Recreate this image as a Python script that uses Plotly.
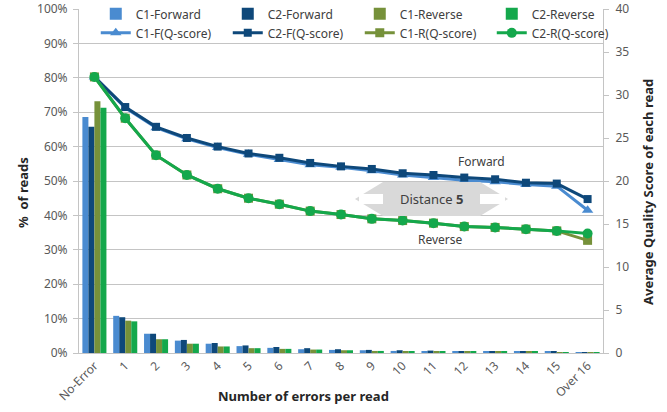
import plotly.graph_objects as go

categories = ["No-Error", "1", "2", "3", "4", "5", "6", "7", "8", "9", "10",
              "11", "12", "13", "14", "15", "Over 16"]

# % of reads (bars, left axis)
c1_forward = [68.6, 10.8, 5.6, 3.6, 2.7, 2.0, 1.5, 1.1, 0.9, 0.8, 0.6, 0.55, 0.45, 0.45, 0.35, 0.3, 0.2]
c2_forward = [65.8, 10.4, 5.6, 3.8, 2.9, 2.2, 1.75, 1.4, 1.1, 0.9, 0.8, 0.7, 0.55, 0.55, 0.4, 0.35, 0.2]
c1_reverse = [73.2, 9.4, 4.0, 2.7, 1.9, 1.4, 1.2, 1.0, 0.8, 0.6, 0.55, 0.45, 0.4, 0.35, 0.3, 0.25, 0.2]
c2_reverse = [71.3, 9.2, 4.0, 2.7, 1.9, 1.4, 1.2, 1.0, 0.8, 0.6, 0.55, 0.45, 0.4, 0.35, 0.3, 0.25, 0.2]

# Average quality score (lines, right axis)
c1_f_q = [32.1, 28.5, 26.2, 24.9, 23.9, 23.1, 22.5, 21.9, 21.6, 21.2, 20.7, 20.4, 20.1, 19.9, 19.6, 19.4, 16.6]
c2_f_q = [32.1, 28.6, 26.3, 25.0, 24.0, 23.2, 22.7, 22.1, 21.7, 21.4, 20.9, 20.7, 20.4, 20.2, 19.8, 19.7, 17.9]
c1_r_q = [32.1, 27.3, 23.0, 20.7, 19.1, 18.0, 17.3, 16.5, 16.1, 15.6, 15.4, 15.1, 14.7, 14.6, 14.4, 14.2, 13.1]
c2_r_q = [32.1, 27.3, 23.0, 20.7, 19.1, 18.0, 17.3, 16.5, 16.1, 15.6, 15.4, 15.1, 14.7, 14.6, 14.4, 14.2, 13.9]

left_ticks = [0, 10, 20, 30, 40, 50, 60, 70, 80, 90, 100]
left_tick_text = [f"{v}%" for v in left_ticks]

COL_C1F = "#4a8bd0"
COL_C2F = "#0e487a"
COL_C1R = "#76913a"
COL_C2R = "#14a84c"
FONT = "Noto Sans"
GRID = "#c4c4c4"

PLOT_L, PLOT_R, PLOT_T, PLOT_B = 79, 603, 9, 353

fig = go.Figure()
for name, vals, col in [("C1-Forward", c1_forward, COL_C1F), ("C2-Forward", c2_forward, COL_C2F),
                        ("C1-Reverse", c1_reverse, COL_C1R), ("C2-Reverse", c2_reverse, COL_C2R)]:
    fig.add_trace(go.Bar(x=categories, y=vals, name=name, marker=dict(color=col, line=dict(width=0))))

for name, vals, col, sym, size in [("C1-F(Q-score)", c1_f_q, COL_C1F, "triangle-up", 10),
                                   ("C2-F(Q-score)", c2_f_q, COL_C2F, "square", 8),
                                   ("C1-R(Q-score)", c1_r_q, COL_C1R, "square", 9),
                                   ("C2-R(Q-score)", c2_r_q, COL_C2R, "circle", 10)]:
    fig.add_trace(go.Scatter(x=categories, y=vals, name=name, yaxis="y2", mode="lines+markers",
                             line=dict(color=col, width=3),
                             marker=dict(symbol=sym, size=size, color=col)))

# Decorations placed in paper coordinates relative to the plot area
def px(x):
    return (x - PLOT_L) / (PLOT_R - PLOT_L)

def py(y):
    return (PLOT_B - y) / (PLOT_B - PLOT_T)

path = (f"M {px(355)} {py(199)} L {px(383)} {py(182)} L {px(480)} {py(182)} L {px(508)} {py(199)} "
        f"L {px(480)} {py(216)} L {px(383)} {py(216)} Z")
shapes = [
    dict(type="path", path=path, xref="paper", yref="paper", fillcolor="#d9d9d9", line=dict(width=0), layer="above"),
    dict(type="rect", xref="paper", yref="paper", x0=px(359), x1=px(383), y0=py(204), y1=py(194),
         fillcolor="white", line=dict(width=0), layer="above"),
    dict(type="rect", xref="paper", yref="paper", x0=px(480), x1=px(505), y0=py(204), y1=py(194),
         fillcolor="white", line=dict(width=0), layer="above"),
    # legend backdrop hiding the top gridline inside the plot area
    dict(type="rect", xref="paper", yref="paper", x0=px(80), x1=px(602), y0=py(42), y1=py(6),
         fillcolor="white", line=dict(width=0), layer="above"),
]

def ann(text, x, y, size=12, color="#404040", angle=0):
    return dict(text=text, x=px(x), y=py(y), xref="paper", yref="paper", showarrow=False,
                xanchor="center", yanchor="middle", textangle=angle,
                font=dict(family=FONT, size=size, color=color))

annotations = [
    ann("Distance <b>5</b>", 431, 199, size=13),
    ann("Forward", 481, 161),
    ann("Reverse", 440, 239),
    ann("<b>Number of errors per read</b>", 303, 396, size=13, color="#262626"),
    ann("<b>%  of reads</b>", 23, 193, size=13, color="#262626", angle=-90),
    ann("<b>Average Quality Score of each read</b>", 648, 192, size=13, color="#262626", angle=-90),
]

fig.update_layout(
    width=667, height=412,
    margin=dict(l=PLOT_L, r=667 - PLOT_R, t=PLOT_T, b=412 - PLOT_B, autoexpand=False),
    paper_bgcolor="white", plot_bgcolor="white",
    font=dict(family=FONT, size=12, color="#595959"),
    barmode="group", bargap=0.22, bargroupgap=0,
    showlegend=True,
    legend=dict(orientation="h", x=0.032, y=1.028, xanchor="left", yanchor="top",
                bgcolor="rgba(0,0,0,0)", borderwidth=0, entrywidth=87, entrywidthmode="pixels",
                font=dict(family=FONT, size=12, color="#404040"), traceorder="normal"),
    xaxis=dict(type="category", range=[-0.5, 16.5], tickangle=-45, showgrid=False, showline=True,
               linecolor=GRID, linewidth=1, ticks="", tickfont=dict(size=12), automargin=False),
    yaxis=dict(range=[0, 100], tickvals=left_ticks, ticktext=left_tick_text, showgrid=True,
               gridcolor=GRID, gridwidth=1, showline=True, linecolor=GRID, ticks="outside",
               ticklen=5, tickcolor=GRID, zeroline=False, automargin=False,
               ticklabeloverflow="allow", ticklabelstandoff=3),
    yaxis2=dict(range=[0, 40], dtick=5, overlaying="y", side="right", showgrid=False,
                showline=True, linecolor=GRID, ticks="outside", ticklen=5, tickcolor=GRID,
                zeroline=False, automargin=False, ticklabeloverflow="allow", ticklabelstandoff=4),
    shapes=shapes,
    annotations=annotations,
)

fig.write_html("out.html", config={"displayModeBar": False},
               post_script="document.body.style.margin='0';")
